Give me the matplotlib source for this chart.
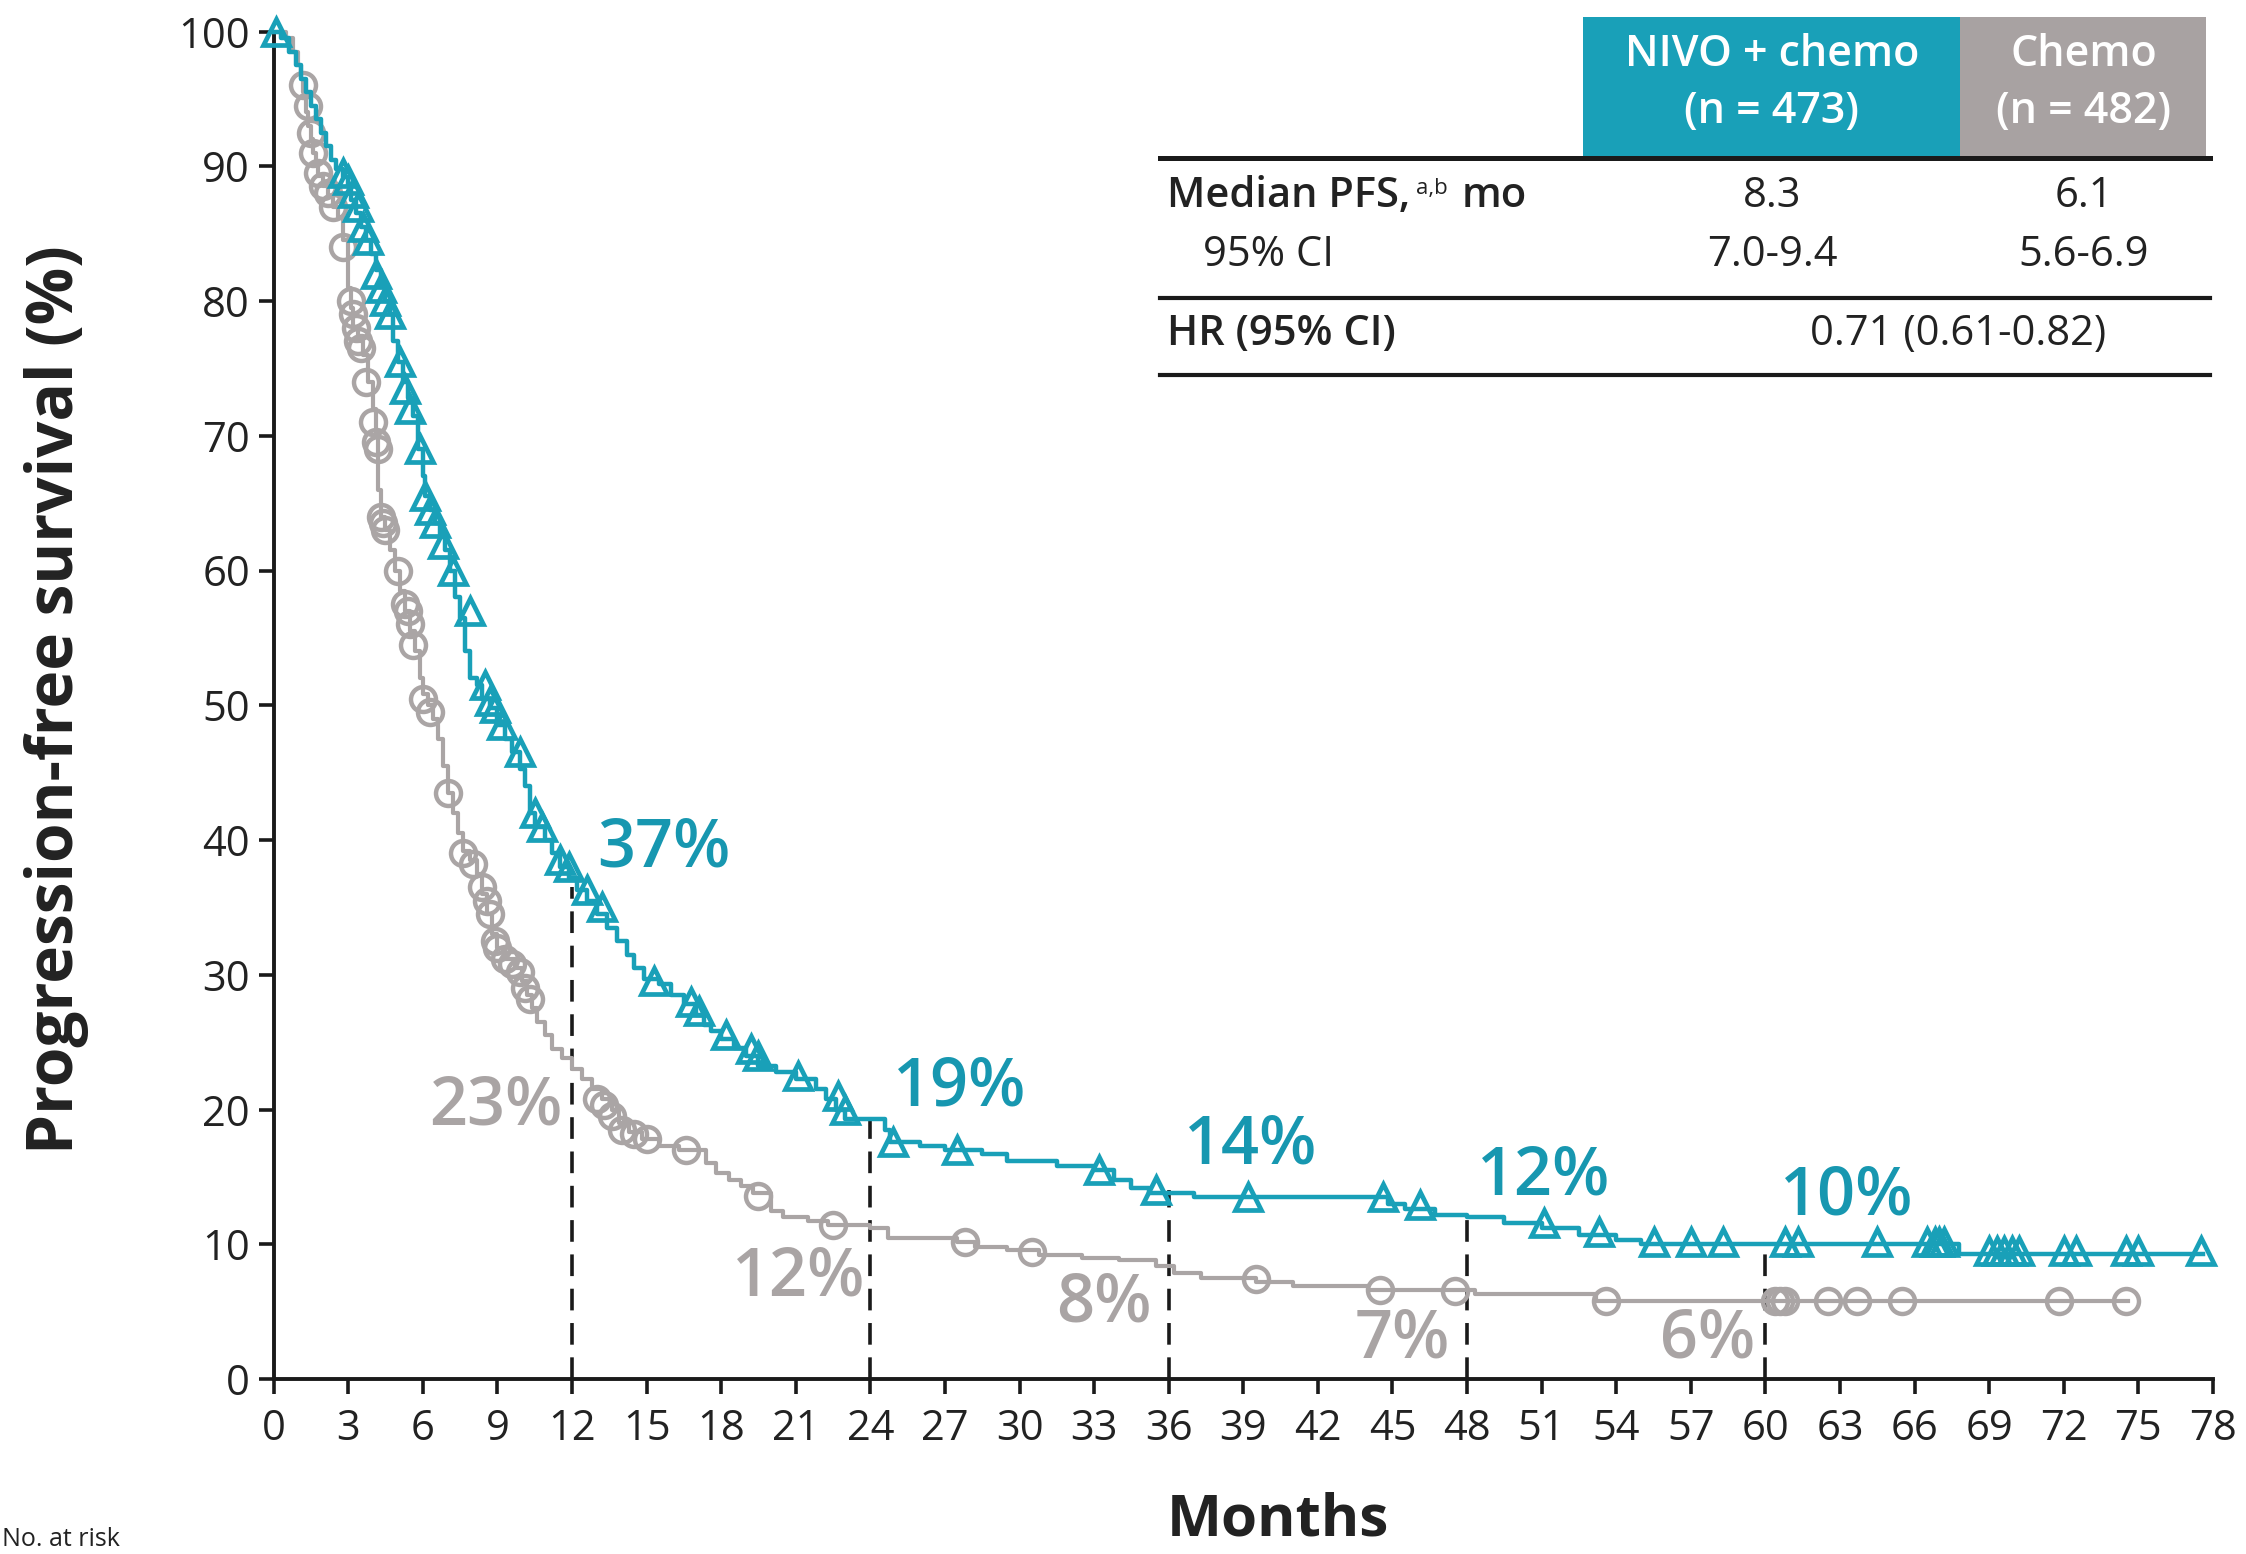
import matplotlib
matplotlib.use("Agg")
import matplotlib.pyplot as plt
from matplotlib.patches import Rectangle
from matplotlib.lines import Line2D

plt.rcParams['font.family'] = ['Open Sans', 'DejaVu Sans']

TEAL = '#19a0b8'
TEAL_TXT = '#1797b0'
GRAY = '#aaa5a5'
GRAY_TXT = '#a9a4a4'
BLACK = '#1a1a1a'

# ---------------- data ----------------
months_ticks = list(range(0, 79, 3))
pct_ticks = list(range(0, 101, 10))

# NIVO + chemo Kaplan-Meier step curve (time in months, PFS %)
nivo_t = [0, 0.3, 0.6, 0.9, 1.1, 1.3, 1.5, 1.7, 1.9, 2.1, 2.3, 2.5, 2.8, 3.0, 3.1, 3.3, 3.5,
          3.7, 3.9, 4.1, 4.3, 4.5, 4.7, 4.8, 5.0, 5.2, 5.4, 5.6, 5.8, 6.0, 6.1, 6.3, 6.5, 6.7,
          6.9, 7.1, 7.3, 7.5, 7.7, 7.9, 8.2, 8.4, 8.7, 9.0, 9.3, 9.6, 9.9, 10.1, 10.3, 10.5,
          10.9, 11.2, 11.5, 11.9, 12.2, 12.6, 13.0, 13.4, 13.8, 14.2, 14.5, 14.9, 15.5, 16.0,
          16.5, 17.0, 17.3, 17.6, 18.0, 18.5, 19.0, 19.5, 20.2, 21.0, 21.8, 22.2, 22.6, 23.0,
          24.6, 24.8, 26.0, 27.0, 28.5, 29.5, 31.5, 33.0, 33.8, 34.5, 35.2, 37.0, 44.8, 45.5,
          46.7, 48.0, 49.5, 51.0, 52.5, 54.0, 55.0, 67.8, 77.6]
nivo_s = [100, 99.5, 98.5, 97.5, 96.5, 95.5, 94.5, 93.5, 92.5, 91.5, 90.5, 89.8, 89.2, 88.5,
          87.5, 86.5, 85.5, 84.5, 83.5, 82.3, 81.2, 80.0, 79.0, 77.0, 75.5, 74.0, 72.8, 71.5,
          69.0, 67.0, 65.5, 64.5, 63.5, 62.5, 61.5, 60.0, 58.0, 56.5, 54.0, 52.0, 51.5, 50.5,
          49.8, 48.5, 47.5, 46.5, 45.3, 44.0, 42.0, 41.0, 40.0, 39.0, 38.0, 37.2, 36.3, 35.5,
          34.5, 33.5, 32.5, 31.5, 30.5, 29.7, 29.3, 28.5, 27.8, 27.0, 26.3, 25.8, 25.2, 24.6,
          24.0, 23.2, 22.8, 22.3, 21.5, 20.8, 20.0, 19.3, 18.5, 17.6, 17.3, 17.0, 16.7, 16.2,
          15.8, 15.5, 14.8, 14.2, 13.8, 13.5, 13.0, 12.6, 12.2, 12.0, 11.6, 11.2, 10.7, 10.3,
          10.0, 9.3, 9.3]

# NIVO + chemo censor marks
nivo_cens_t = [0.1, 2.8, 3.0, 3.2, 3.4, 3.6, 3.8, 4.1, 4.3, 4.5, 4.7, 5.1, 5.3, 5.5, 5.9, 6.1,
               6.3, 6.5, 6.8, 7.2, 7.9, 8.5, 8.7, 8.9, 9.2, 9.9, 10.5, 10.8, 11.5, 11.9, 12.6,
               13.2, 15.3, 16.8, 17.1, 18.2, 19.2, 19.5, 21.1, 22.7, 23.0, 24.9, 27.5, 33.2,
               35.5, 39.2, 44.6, 46.1, 51.1, 53.3, 55.5, 57.0, 58.3, 60.8, 61.3, 64.5, 66.5,
               66.8, 67.0, 67.2, 69.0, 69.3, 69.6, 69.9, 70.2, 72.0, 72.5, 74.5, 75.0, 77.5]
nivo_cens_s = [100, 89.5, 89.0, 88.0, 87.0, 85.5, 84.5, 82.0, 81.0, 80.0, 79.0, 75.5, 73.5,
               72.0, 69.0, 65.5, 64.5, 63.5, 62.0, 60.0, 57.0, 51.5, 50.3, 49.8, 48.5, 46.5,
               42.0, 41.0, 38.5, 38.0, 36.3, 35.0, 29.5, 28.0, 27.3, 25.5, 24.5, 24.0, 22.5,
               21.0, 20.0, 17.6, 17.0, 15.5, 14.0, 13.5, 13.5, 12.9, 11.6, 10.9, 10.2, 10.2,
               10.2, 10.2, 10.2, 10.2, 10.2, 10.2, 10.2, 10.2, 9.5, 9.5, 9.5, 9.5, 9.5, 9.5,
               9.5, 9.5, 9.5, 9.5]

# Chemo Kaplan-Meier step curve
chemo_t = [0, 0.5, 0.8, 1.0, 1.1, 1.2, 1.3, 1.4, 1.5, 1.6, 1.7, 1.8, 2.0, 2.2, 2.4, 2.6, 2.8,
           3.0, 3.1, 3.2, 3.4, 3.6, 3.8, 4.0, 4.1, 4.2, 4.3, 4.5, 4.7, 4.9, 5.1, 5.3, 5.5, 5.7,
           5.9, 6.0, 6.2, 6.4, 6.6, 6.8, 7.0, 7.2, 7.4, 7.6, 7.9, 8.2, 8.4, 8.6, 8.8, 9.0, 9.3,
           9.7, 10.0, 10.2, 10.4, 10.6, 10.9, 11.2, 11.6, 12.0, 12.4, 12.8, 13.2, 13.6, 13.9,
           14.3, 14.8, 15.5, 16.3, 17.4, 17.8, 18.3, 18.8, 19.3, 20.0, 20.5, 21.5, 22.3, 24.0,
           24.7, 27.5, 28.2, 29.5, 30.8, 32.5, 34.0, 35.5, 36.2, 37.3, 39.5, 41.0, 44.0, 48.3,
           53.2, 74.6]
chemo_s = [100, 99.5, 98.5, 97.5, 96.5, 95.5, 94.0, 93.0, 92.0, 91.0, 90.0, 89.3, 88.5, 87.8,
           87.0, 86.2, 84.5, 81.0, 79.5, 78.0, 77.0, 76.0, 74.0, 72.0, 70.0, 66.0, 64.0, 63.0,
           61.5, 60.0, 58.5, 57.0, 55.5, 54.0, 52.0, 50.8, 50.0, 49.0, 47.5, 45.5, 43.5, 42.0,
           40.5, 39.2, 38.5, 37.5, 36.0, 34.5, 33.0, 32.0, 31.2, 30.5, 29.5, 28.5, 27.5, 26.5,
           25.5, 24.5, 23.8, 23.0, 22.3, 21.5, 20.8, 20.0, 19.0, 18.3, 17.8, 17.3, 17.0, 16.0,
           15.3, 14.8, 14.3, 13.8, 12.5, 12.0, 11.7, 11.4, 11.2, 10.5, 10.2, 9.8, 9.6, 9.2, 9.0,
           8.8, 8.4, 7.9, 7.5, 7.2, 6.9, 6.6, 6.3, 5.8, 5.8]

# Chemo censor marks
chemo_cens_t = [1.2, 1.4, 1.5, 1.6, 1.8, 2.0, 2.2, 2.4, 2.8, 3.1, 3.2, 3.3, 3.4, 3.5, 3.7,
                4.0, 4.1, 4.2, 4.3, 4.4, 4.5, 5.0, 5.3, 5.4, 5.5, 5.6, 6.0, 6.3, 7.0, 7.6, 8.0,
                8.4, 8.6, 8.7, 8.9, 9.0, 9.3, 9.6, 9.9, 10.1, 10.3, 13.0, 13.3, 13.6, 14.0,
                14.5, 15.0, 16.6, 19.5, 22.5, 27.8, 30.5, 39.5, 44.5, 47.5, 53.6, 60.4, 60.6,
                60.8, 62.5, 63.7, 65.5, 71.8, 74.5]
chemo_cens_s = [96.0, 94.5, 92.5, 91.0, 89.5, 88.5, 88.0, 87.0, 84.0, 80.0, 79.0, 78.0, 77.0,
                76.5, 74.0, 71.0, 69.5, 69.0, 64.0, 63.5, 63.0, 60.0, 57.5, 57.0, 56.0, 54.5,
                50.5, 49.5, 43.5, 39.0, 38.2, 36.5, 35.5, 34.5, 32.5, 32.0, 31.2, 30.8, 30.2,
                29.0, 28.2, 20.8, 20.3, 19.5, 18.5, 18.2, 17.8, 17.0, 13.6, 11.4, 10.2, 9.4,
                7.4, 6.6, 6.5, 5.8, 5.8, 5.8, 5.8, 5.8, 5.8, 5.8, 5.8, 5.8]

# Landmark estimates
landmark_months = [12, 24, 36, 48, 60]
landmark_nivo = [37, 19, 14, 12, 10]
landmark_chemo = [23, 12, 8, 7, 6]
dash_top = [36.5, 19.2, 14.0, 12.0, 10.0]

# Table texts
arm_names = ['NIVO + chemo\n(n = 473)', 'Chemo\n(n = 482)']
median_pfs = ['8.3', '6.1']
median_ci = ['7.0-9.4', '5.6-6.9']
hr_text = '0.71 (0.61-0.82)'

# ---------------- figure ----------------
W, H = 2246, 1554
DPI = 200
fig = plt.figure(figsize=(W / DPI, H / DPI), dpi=DPI)
fig.patch.set_facecolor('white')


def fx(px):
    return px / W


def fy(py):
    return 1 - py / H


x0, x1 = 273.6, 2213.0
y_top, y_bot = 31.5, 1379.0
ax = fig.add_axes([fx(x0), fy(y_bot), fx(x1) - fx(x0), (y_bot - y_top) / H])
ax.set_xlim(0, 78)
ax.set_ylim(0, 100)
ax.set_facecolor('none')

for side in ['top', 'right']:
    ax.spines[side].set_visible(False)
for side in ['left', 'bottom']:
    ax.spines[side].set_linewidth(1.4)
    ax.spines[side].set_color(BLACK)

ax.set_xticks(months_ticks)
ax.set_yticks(pct_ticks)
ax.tick_params(axis='both', direction='out', length=5.5, width=1.3, color=BLACK,
               labelsize=15, labelcolor='#222222', pad=3)
ax.tick_params(axis='x', pad=5)

# landmark dashed lines
ax.vlines(landmark_months, 0, dash_top, colors=BLACK, linewidth=1.3,
          linestyles=(0, (6, 3.5)), zorder=2)

# curves
ax.step(chemo_t, chemo_s, where='post', color=GRAY, lw=1.5, zorder=3, clip_on=False)
ax.step(nivo_t, nivo_s, where='post', color=TEAL, lw=1.6, zorder=4, clip_on=False)

ax.plot(chemo_cens_t, chemo_cens_s, ls='none', marker='o', ms=9, mfc='none',
        mec=GRAY, mew=1.6, zorder=3, clip_on=False)
ax.plot(nivo_cens_t, nivo_cens_s, ls='none', marker='^', ms=9.5, mfc='none',
        mec=TEAL, mew=1.7, zorder=5, clip_on=False)

# landmark labels
nivo_lab_pos = [(13.0, 39.3), (24.9, 21.6), (36.6, 17.3), (48.4, 15.0), (60.6, 13.5)]
chemo_lab_pos = [(11.6, 20.2), (23.8, 7.5), (35.3, 5.6), (47.3, 2.9), (59.6, 2.9)]
for (lx, ly), v in zip(nivo_lab_pos, landmark_nivo):
    ax.text(lx, ly, f'{v}%', color=TEAL_TXT, fontsize=24, fontweight='semibold',
            ha='left', va='center', zorder=6)
for (lx, ly), v in zip(chemo_lab_pos, landmark_chemo):
    ax.text(lx, ly, f'{v}%', color=GRAY_TXT, fontsize=24, fontweight='semibold',
            ha='right', va='center', zorder=6)

# axis labels
fig.text(fx(57), fy(700), 'Progression-free survival (%)', rotation=90, ha='center',
         va='center', fontsize=23, fontweight='bold', color='#222222')
fig.text(fx(1278), fy(1521), 'Months', ha='center', va='center', fontsize=21,
         fontweight='bold', color='#222222')
fig.text(fx(2), fy(1552), 'No. at risk', ha='left', va='bottom', fontsize=9,
         color='#222222')

# ---------------- summary table ----------------
col_c = [1772, 2084]
box_x = [(1583, 1960), (1960, 2206)]
box_cols = [TEAL, '#a8a2a2']
for (bx0, bx1), c, name, cx in zip(box_x, box_cols, arm_names, col_c):
    fig.patches.append(Rectangle((fx(bx0), fy(158)), (bx1 - bx0) / W, (158 - 17) / H,
                                 transform=fig.transFigure, facecolor=c, edgecolor='none'))
    fig.text(fx(cx), fy(83), name, ha='center', va='center', color='white', fontsize=15.5,
             fontweight='semibold', linespacing=1.4)

for ly, lw in [(158, 1.8), (298, 1.5), (375, 1.5)]:
    fig.add_artist(Line2D([fx(1160), fx(2210)], [fy(ly), fy(ly)], transform=fig.transFigure,
                          color=BLACK, lw=lw))

row_kw = dict(fontsize=15, color='#222222', va='center')
t1 = fig.text(fx(1167), fy(196), 'Median PFS,', fontweight='semibold', ha='left', **row_kw)
sup = ax.annotate('a,b', xy=(1, 0.93), xycoords=t1, xytext=(2, 0), textcoords='offset points',
                  ha='left', va='top', fontsize=8, color='#222222', annotation_clip=False)
ax.annotate('mo', xy=(1, 0), xycoords=(sup, t1), xytext=(5, 0), textcoords='offset points',
            ha='left', va='bottom', fontsize=15, fontweight='semibold', color='#222222',
            annotation_clip=False)
fig.text(fx(1203), fy(255), '95% CI', ha='left', **row_kw)
fig.text(fx(1167), fy(334), 'HR (95% CI)', fontweight='semibold', ha='left', **row_kw)
for cx, m, ci in zip(col_c, median_pfs, median_ci):
    fig.text(fx(cx), fy(196), m, ha='center', **row_kw)
    fig.text(fx(cx), fy(255), ci, ha='center', **row_kw)
fig.text(fx(1958), fy(334), hr_text, ha='center', **row_kw)

fig.savefig('out.png', dpi=DPI, facecolor='white')
